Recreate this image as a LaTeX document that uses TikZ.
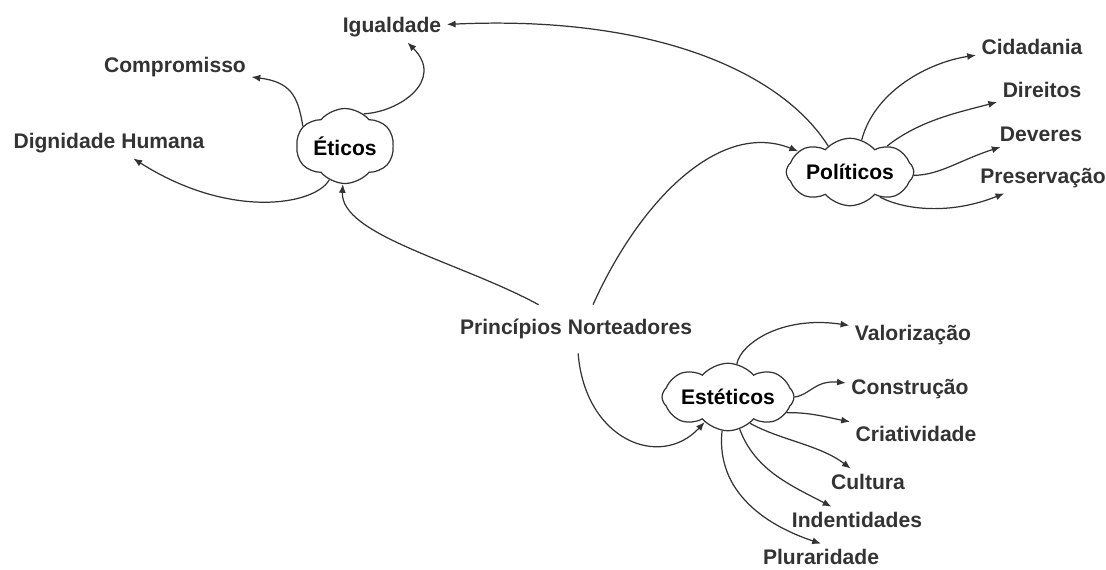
\documentclass[tikz,border=0pt]{standalone}
\usepackage{fontspec}
\setmainfont{Liberation Sans}
\usepackage{tikz}
\usetikzlibrary{shapes, shapes.symbols}
\usetikzlibrary{arrows,arrows.meta}
\definecolor{ink}{HTML}{333333}
\tikzset{
  topic/.style={font=\bfseries\fontsize{12}{14}\selectfont, text=ink, inner sep=3pt},
  blob/.style={cloud, draw=ink, line width=0.7pt, cloud ignores aspect, cloud puff arc=100, font=\bfseries\fontsize{12}{14}\selectfont, text=black, inner sep=1pt},
  arr/.style={-{Latex[length=5pt,width=4pt]}, draw=ink, line width=0.7pt}
}
\begin{document}
\begin{tikzpicture}[x=0.02cm, y=0.02cm]
\useasboundingbox (0,0) rectangle (1106,-569);
%\draw[-,color=black,dashed] (0,0) grid[step=100] (1106,-569);
\node[topic, inner ysep=8pt] (princ) at (576,-329){Princípios Norteadores};
\node[blob, cloud puffs=6, minimum width=1.95cm, minimum height=1.5cm] (etic) at (345,-146){Éticos};
\node[blob, cloud puffs=8, minimum width=2.55cm, minimum height=1.35cm] (poli) at (850,-172){Políticos};
\node[blob, cloud puffs=8, minimum width=2.5cm, minimum height=1.35cm] (este) at (728,-397){Estéticos};
\node[topic] (igual) at (392,-27){Igualdade};
\node[topic] (comp) at (175,-67){Compromisso};
\node[topic] (dign) at (109,-143){Dignidade Humana};
\node[topic] (cida) at (1032,-47){Cidadania};
\node[topic] (dire) at (1042,-90){Direitos};
\node[topic] (deve) at (1041,-134){Deveres};
\node[topic] (pres) at (1043,-178){Preservação};
\node[topic] (valo) at (913,-335){Valorização};
\node[topic] (cons) at (910,-389){Construção};
\node[topic] (cria) at (916,-434){Criatividade};
\node[topic] (cult) at (868,-482){Cultura};
\node[topic] (iden) at (857,-520){Indentidades};
\node[topic] (plur) at (821,-557){Pluraridade};
\draw[arr] (princ.147) .. controls (460,-262) and (340,-235) .. (etic);
\draw[arr] (princ.55) .. controls (640,-200) and (720,-120) .. (poli);
\draw[arr] (princ.275) .. controls (585,-440) and (660,-470) .. (este);
\draw[arr] (etic.155) .. controls (298,-95) and (290,-82) .. (comp);
\draw[arr] (etic.60) .. controls (400,-112) and (445,-80) .. (igual);
\draw[arr] (etic.245) .. controls (315,-205) and (230,-220) .. (dign);
\draw[arr] (poli.130) .. controls (780,-70) and (650,-15) .. (igual);
\draw[arr] (poli.70) .. controls (875,-90) and (930,-62) .. (cida);
\draw[arr] (poli.35) .. controls (920,-120) and (960,-112) .. (dire);
\draw[arr] (poli.357) .. controls (940,-175) and (960,-160) .. (deve);
\draw[arr] (poli.-40) .. controls (905,-210) and (950,-215) .. (pres);
\draw[arr] (este.75) .. controls (740,-345) and (780,-315) .. (valo);
\draw[arr] (este.east) .. controls (810,-395) and (815,-380) .. (cons);
\draw[arr] (este.-15) .. controls (810,-412) and (830,-418) .. (cria);
\draw[arr] (este.-50) .. controls (780,-440) and (820,-445) .. (cult);
\draw[arr] (este.-70) .. controls (755,-470) and (790,-485) .. (iden);
\draw[arr] (este.-100) .. controls (715,-500) and (780,-530) .. (plur.north);
\end{tikzpicture}
\end{document}
